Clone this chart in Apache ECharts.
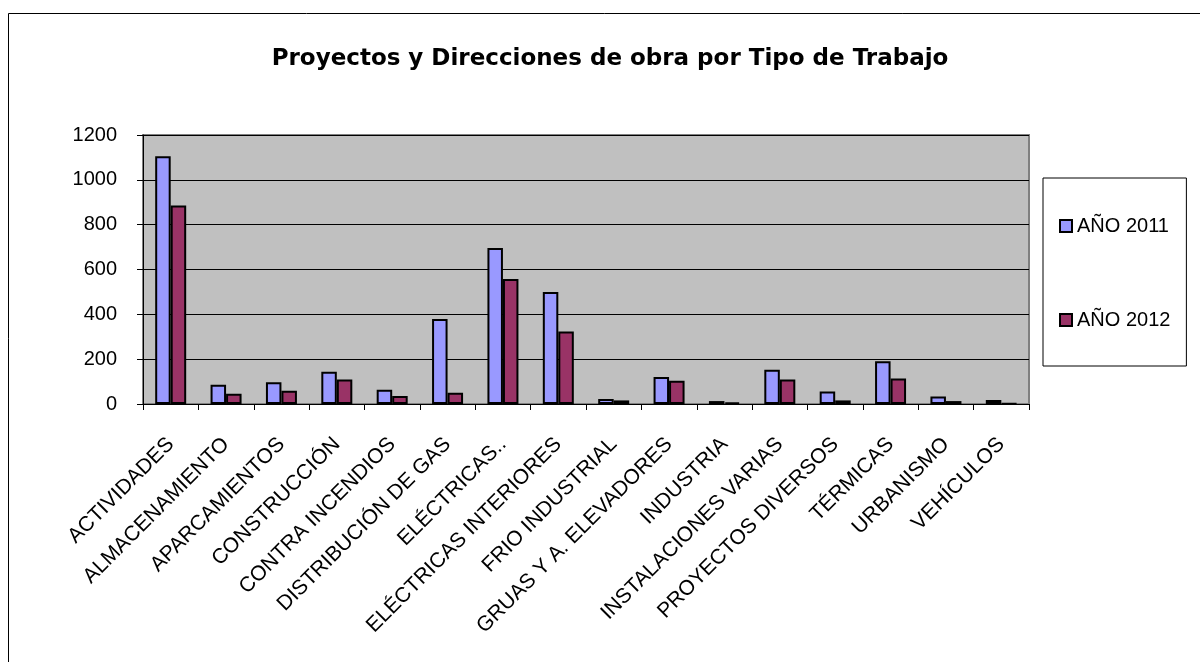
<!DOCTYPE html>
<html>
<head>
<meta charset="utf-8">
<script src="https://cdn.jsdelivr.net/npm/echarts@6/dist/echarts.min.js"></script>
<style>
  html, body { margin: 0; padding: 0; background: #fff; }
  #container { width: 1200px; height: 662px; }
</style>
</head>
<body>
<div id="container"></div>
<script>
var categories = ['ACTIVIDADES', 'ALMACENAMIENTO', 'APARCAMIENTOS', 'CONSTRUCCIÓN', 'CONTRA INCENDIOS',
  'DISTRIBUCIÓN DE GAS', 'ELÉCTRICAS..', 'ELÉCTRICAS INTERIORES', 'FRIO INDUSTRIAL', 'GRUAS Y A. ELEVADORES',
  'INDUSTRIA', 'INSTALACIONES VARIAS', 'PROYECTOS DIVERSOS', 'TÉRMICAS', 'URBANISMO', 'VEHÍCULOS'];

var data2011 = [1105, 86, 97, 144, 64, 379, 696, 500, 22, 120, 13, 153, 56, 191, 34, 18];
var data2012 = [886, 46, 59, 109, 36, 50, 558, 323, 16, 104, 7, 109, 16, 114, 13, 2];

var yTicks = { min: 0, max: 1200, interval: 200 };

var dom = document.getElementById('container');
var myChart = echarts.init(dom, null, { renderer: 'canvas' });

var font = 'Liberation Sans, Arial, sans-serif';

var option = {
  animation: false,
  backgroundColor: '#fff',
  textStyle: { fontFamily: font, color: '#000' },
  graphic: [
    {
      // outer chart frame (right and bottom edges run off the picture)
      type: 'rect',
      shape: { x: 8.5, y: 13.5, width: 1300, height: 800 },
      style: { fill: 'transparent', stroke: '#000', lineWidth: 1 },
      silent: true
    }
  ],
  title: {
    text: 'Proyectos y Direcciones de obra por Tipo de Trabajo',
    left: 605,
    textAlign: 'center',
    top: 43,
    textStyle: { fontFamily: 'DejaVu Sans, sans-serif', fontSize: 23, fontWeight: 'bold', color: '#000' }
  },
  legend: {
    data: ['AÑO 2011', 'AÑO 2012'],
    orient: 'vertical',
    left: 1043,
    top: 178,
    padding: [38, 16, 36, 16],
    itemGap: 74,
    itemWidth: 12,
    itemHeight: 12,
    icon: 'rect',
    backgroundColor: '#fff',
    borderColor: '#000',
    borderWidth: 1,
    textStyle: { fontFamily: font, fontSize: 20, color: '#000' }
  },
  grid: {
    left: 143,
    right: 171,
    top: 135,
    bottom: 258,
    show: true,
    backgroundColor: '#c0c0c0',
    borderColor: '#808080',
    borderWidth: 2
  },
  xAxis: {
    type: 'category',
    data: categories,
    axisLine: { lineStyle: { color: '#000', width: 1 } },
    axisTick: { show: true, length: 6, lineStyle: { color: '#000' } },
    axisLabel: {
      rotate: 45,
      interval: 0,
      margin: 37,
      fontFamily: font,
      fontSize: 21,
      color: '#000'
    },
    splitLine: { show: false }
  },
  yAxis: {
    type: 'value',
    min: yTicks.min,
    max: yTicks.max,
    interval: yTicks.interval,
    axisLine: { show: true, lineStyle: { color: '#000', width: 1 } },
    axisTick: { show: true, length: 6, lineStyle: { color: '#000' } },
    axisLabel: {
      margin: 26,
      fontFamily: font,
      fontSize: 20,
      color: '#000',
      formatter: function (v) { return String(v); }
    },
    splitLine: { show: true, lineStyle: { color: '#000', width: 1 } }
  },
  series: [
    {
      name: 'AÑO 2011',
      type: 'bar',
      data: data2011,
      barWidth: 15.5,
      barGap: '0%',
      itemStyle: { color: '#9999ff', borderColor: '#000', borderWidth: 2 }
    },
    {
      name: 'AÑO 2012',
      type: 'bar',
      data: data2012,
      barWidth: 15.5,
      barGap: '0%',
      itemStyle: { color: '#993366', borderColor: '#000', borderWidth: 2 }
    }
  ]
};

myChart.setOption(option);
window.addEventListener('resize', myChart.resize);
</script>
</body>
</html>
